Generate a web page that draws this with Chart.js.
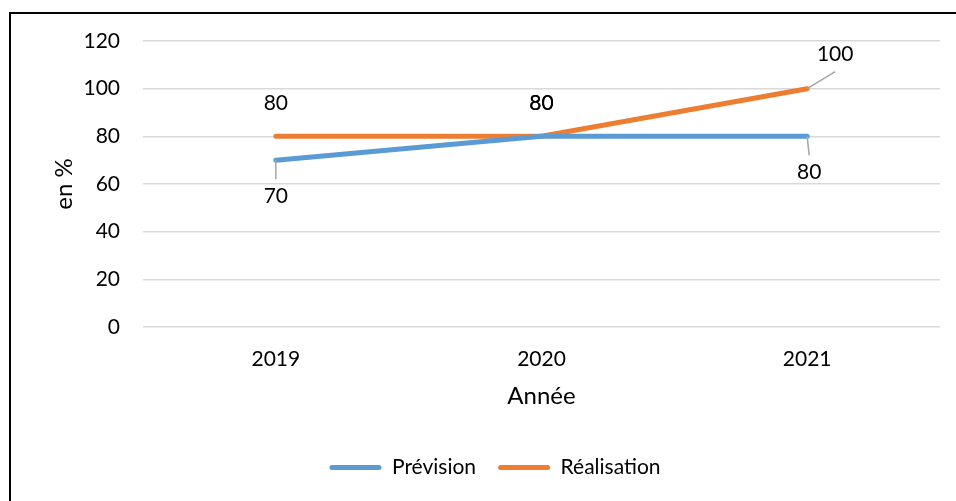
<!DOCTYPE html>
<html><head><meta charset="utf-8">
<script src="https://cdn.jsdelivr.net/npm/chart.js@4.4.1/dist/chart.umd.min.js"></script>
<style>html,body{margin:0;padding:0;background:#fff}#wrap{width:956px;height:501px;position:relative}</style>
</head><body><div id="wrap"><canvas id="c" width="956" height="501"></canvas></div>
<script>
const categories = ['2019', '2020', '2021'];
const prevision = [70, 80, 80];
const realisation = [80, 80, 100];
const seriesNames = ['Prévision', 'Réalisation'];
const yTicks = [0, 20, 40, 60, 80, 100, 120];
const xTitle = 'Année';
const yTitle = 'en %';

const FONT = 'Lato';
const FS = 21;
// label placement per series/point: [dx, dy, leader]
const labelPlacement = [
  [[0, 36, true], [0, -33, false], [2, 36, true]],
  [[0, -33, false], [0, -33, false], [28, -34, true]]
];

const framePlugin = {
  id: 'frame',
  beforeDraw(chart) {
    const ctx = chart.ctx;
    ctx.save();
    ctx.fillStyle = '#fff';
    ctx.fillRect(0, 0, chart.width, chart.height);
    ctx.strokeStyle = '#000';
    ctx.lineWidth = 2;
    ctx.strokeRect(10, 13, 960, 520);
    ctx.restore();
  }
};

const labelPlugin = {
  id: 'dlabels',
  afterDatasetsDraw(chart) {
    const ctx = chart.ctx;
    ctx.save();
    ctx.font = FS + 'px ' + FONT;
    ctx.fillStyle = '#000';
    ctx.textAlign = 'center';
    ctx.textBaseline = 'middle';
    chart.data.datasets.forEach((ds, di) => {
      const meta = chart.getDatasetMeta(di);
      meta.data.forEach((pt, i) => {
        const [dx, dy, leader] = labelPlacement[di][i];
        const x = pt.x, y = pt.y;
        if (leader) {
          ctx.strokeStyle = '#A6A6A6';
          ctx.lineWidth = 1.5;
          ctx.beginPath();
          ctx.moveTo(x, y);
          if (dy > 0) ctx.lineTo(x + dx, y + dy - 17);
          else ctx.lineTo(x + dx, y + dy + 17);
          ctx.stroke();
        }
        ctx.fillText(String(ds.data[i]), x + dx, y + dy);
      });
    });
    ctx.restore();
  }
};

new Chart(document.getElementById('c'), {
  type: 'line',
  data: {
    labels: categories,
    datasets: [
      { label: seriesNames[0], data: prevision, borderColor: '#5B9BD5', backgroundColor: '#5B9BD5', borderWidth: 5, pointRadius: 0, borderCapStyle: 'round', borderJoinStyle: 'round', tension: 0 },
      { label: seriesNames[1], data: realisation, borderColor: '#ED7D31', backgroundColor: '#ED7D31', borderWidth: 5, pointRadius: 0, borderCapStyle: 'round', borderJoinStyle: 'round', tension: 0 }
    ]
  },
  options: {
    responsive: false,
    animation: false,
    layout: { padding: { left: 50, right: 16, top: 41, bottom: 13 } },
    plugins: {
      tooltip: { enabled: false },
      legend: {
        position: 'bottom',
        labels: {
          font: { family: FONT, size: FS },
          color: '#000',
          boxWidth: 52,
          boxHeight: 5,
          useBorderRadius: true,
          borderRadius: 2.5,
          padding: 22,
          generateLabels(chart) {
            return chart.data.datasets.map((d, i) => ({
              text: d.label, fillStyle: d.borderColor, strokeStyle: d.borderColor, lineWidth: 0, datasetIndex: i, borderRadius: 2.5
            }));
          }
        }
      }
    },
    scales: {
      x: {
        offset: true,
        grid: { display: false, drawTicks: false },
        border: { display: false },
        ticks: { font: { family: FONT, size: FS }, color: '#000', padding: 20 },
        title: { display: true, text: xTitle, font: { family: FONT, size: 24 }, color: '#000', padding: { top: 8, bottom: 24 } },
        afterFit(s) { s.height = 108; }
      },
      y: {
        min: 0, max: 120,
        afterBuildTicks(s) { s.ticks = yTicks.map(v => ({ value: v })); },
        grid: { color: '#D9D9D9', lineWidth: 1.5, drawTicks: false },
        border: { display: false },
        ticks: { font: { family: FONT, size: FS }, color: '#000', padding: 23 },
        title: { display: true, text: yTitle, font: { family: FONT, size: 24 }, color: '#000', padding: { top: 0, bottom: 0 } },
        afterFit(s) { s.width = 93; }
      }
    }
  },
  plugins: [framePlugin, labelPlugin]
});
</script></body></html>
